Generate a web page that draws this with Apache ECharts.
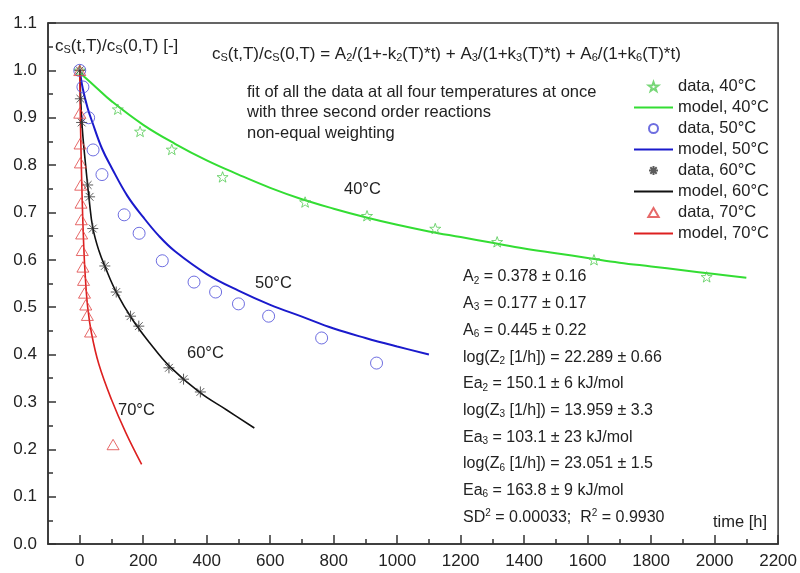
<!DOCTYPE html>
<html style="height: 100%">
<head>
    <meta charset="UTF-8">
    <title>cS(t,T)/cS(0,T) fit</title>
    <script type="text/javascript" src="https://cdn.jsdelivr.net/npm/echarts/dist/echarts.min.js"></script>
</head>
<body style="height: 100%; margin: 0">
<div id="container" style="width: 800px; height: 573px"></div>
<script>
    // axis ticks
    var xTicks = [0, 200, 400, 600, 800, 1000, 1200, 1400, 1600, 1800, 2000, 2200];
    var xMinorTicks = [100, 300, 500, 700, 900, 1100, 1300, 1500, 1700, 1900, 2100];

    // measured data [t (h), cS(t)/cS(0)]
    var data40 = [[0, 1.0], [120, 0.918], [190, 0.871], [290, 0.833], [450, 0.775], [710, 0.722],
        [905, 0.693], [1120, 0.666], [1315, 0.638], [1620, 0.600], [1975, 0.564]];
    var data50 = [[0, 1.0], [10, 0.965], [28, 0.9], [42, 0.832], [70, 0.78], [140, 0.695], [187, 0.656],
        [260, 0.598], [360, 0.553], [428, 0.532], [500, 0.507], [595, 0.481], [762, 0.435], [935, 0.382]];
    var data60 = [[0, 1.0], [2, 0.94], [6, 0.89], [25, 0.758], [31, 0.733], [41, 0.666], [79, 0.587],
        [115, 0.532], [160, 0.481], [186, 0.46], [281, 0.372], [327, 0.348], [380, 0.321]];
    var data70 = [[0, 1.0], [0, 0.91], [1, 0.845], [2, 0.805], [3, 0.758], [4, 0.72], [5, 0.685], [6, 0.655],
        [8, 0.62], [10, 0.585], [12, 0.557], [15, 0.53], [19, 0.505], [24, 0.483], [34, 0.448], [105, 0.21]];

    // model curves
    var model40 = [[0, 0.995], [50, 0.965], [100, 0.935], [200, 0.885], [300, 0.845], [400, 0.81], [500, 0.78],
        [600, 0.752], [700, 0.728], [800, 0.708], [900, 0.69], [1000, 0.674], [1100, 0.66], [1200, 0.648],
        [1300, 0.636], [1400, 0.624], [1500, 0.614], [1600, 0.604], [1700, 0.594], [1800, 0.586],
        [1900, 0.578], [2000, 0.57], [2100, 0.562]];
    var model50 = [[0, 1.0], [10, 0.96], [25, 0.92], [40, 0.89], [70, 0.835], [100, 0.795], [150, 0.735],
        [200, 0.69], [250, 0.65], [300, 0.618], [400, 0.57], [500, 0.535], [600, 0.505], [700, 0.48],
        [800, 0.455], [900, 0.435], [1000, 0.417], [1100, 0.4]];
    var model60 = [[0, 1.0], [5, 0.91], [10, 0.86], [20, 0.79], [30, 0.725], [41, 0.668], [60, 0.62],
        [80, 0.585], [115, 0.532], [167, 0.473], [220, 0.425], [283, 0.375], [378, 0.32], [463, 0.283], [550, 0.245]];
    var model70 = [[0, 1.0], [2, 0.9], [5, 0.8], [8, 0.72], [12, 0.64], [17, 0.57], [25, 0.5], [37, 0.445],
        [60, 0.38], [100, 0.305], [145, 0.235], [195, 0.168]];

    var legendNames = ['data, 40°C', 'model, 40°C', 'data, 50°C', 'model, 50°C',
        'data, 60°C', 'model, 60°C', 'data, 70°C', 'model, 70°C'];

    var paramLines = [
        'A{sub|2} = 0.378 ± 0.16',
        'A{sub|3} = 0.177 ± 0.17',
        'A{sub|6} = 0.445 ± 0.22',
        'log(Z{sub|2} [1/h]) = 22.289 ± 0.66',
        'Ea{sub|2} = 150.1 ± 6 kJ/mol',
        'log(Z{sub|3} [1/h]) = 13.959 ± 3.3',
        'Ea{sub|3} = 103.1 ± 23 kJ/mol',
        'log(Z{sub|6} [1/h]) = 23.051 ± 1.5',
        'Ea{sub|6} = 163.8 ± 9 kJ/mol',
        'SD{sup|2} = 0.00033;  R{sup|2} = 0.9930'
    ];
    var noteLines = [
        'fit of all the data at all four temperatures at once',
        'with three second order reactions',
        'non-equal weighting'
    ];

    var FONT = '"Liberation Sans", Arial, sans-serif';
    var TXT = '#222';

    var STAR = 'path://M0,-10L2.35,-3.24L9.51,-3.09L3.8,1.24L5.88,8.09L0,4L-5.88,8.09L-3.8,1.24L-9.51,-3.09L-2.35,-3.24Z';
    var ASTER = 'path://M0,-10L0,10M-10,0L10,0M-7.07,-7.07L7.07,7.07M-7.07,7.07L7.07,-7.07';
    var TRI = 'path://M0,-10L10,7.3L-10,7.3Z';

    function txt(x, y, s, size) {
        return {
            type: 'text', x: x, y: y, z: 100,
            style: {
                text: s, fontSize: size, fontFamily: FONT, fill: TXT,
                lineHeight: 20, verticalAlign: 'middle', align: 'left',
                rich: {
                    sub: {fontSize: Math.round(size * 0.62), fontFamily: FONT, fill: TXT, lineHeight: 10, padding: [8, 0, 0, 0]},
                    sup: {fontSize: Math.round(size * 0.62), fontFamily: FONT, fill: TXT, lineHeight: 10, padding: [0, 0, 8, 0]}
                }
            }
        };
    }

    function scatter(name, data, symbol, size, color) {
        return {
            name: name, type: 'scatter', data: data, symbol: symbol, symbolSize: size,
            symbolKeepAspect: true,
            itemStyle: {color: 'rgba(0,0,0,0)', borderColor: color, borderWidth: 1},
            z: 3
        };
    }

    function model(name, data, color, width) {
        return {
            name: name, type: 'line', data: data, symbol: 'none', smooth: 0.4,
            lineStyle: {color: color, width: width}, itemStyle: {color: color},
            z: 2
        };
    }

    var legendIcons = {'data, 40°C': STAR, 'data, 50°C': 'circle', 'data, 60°C': ASTER, 'data, 70°C': TRI};
    var legendData = legendNames.map(function (n) {
        if (legendIcons[n]) return {name: n, icon: legendIcons[n]};
        return {name: n, itemStyle: {opacity: 0}};
    });

    var graphics = [];
    graphics.push(txt(55, 46, 'c{sub|S}(t,T)/c{sub|S}(0,T) [-]', 17));
    graphics.push(txt(212, 54, 'c{sub|S}(t,T)/c{sub|S}(0,T) = A{sub|2}/(1+-k{sub|2}(T)*t) + A{sub|3}/(1+k{sub|3}(T)*t) + A{sub|6}/(1+k{sub|6}(T)*t)', 17));
    noteLines.forEach(function (s, i) {
        graphics.push(txt(247, 92 + i * 20.5, s, 16.5));
    });
    paramLines.forEach(function (s, i) {
        graphics.push(txt(463, 277 + i * 26.7, s, 16));
    });
    graphics.push(txt(713, 522, 'time [h]', 16.5));
    graphics.push(txt(344, 189, '40°C', 16.5));
    graphics.push(txt(255, 283, '50°C', 16.5));
    graphics.push(txt(187, 353, '60°C', 16.5));
    graphics.push(txt(118, 410, '70°C', 16.5));

    var chart = echarts.init(document.getElementById('container'));
    var option = {
        animation: false,
        backgroundColor: '#fff',
        textStyle: {fontFamily: FONT},
        grid: {left: 48, right: 21, top: 23, bottom: 29, show: true, borderColor: '#333', borderWidth: 1.5},
        legend: {
            orient: 'vertical', left: 628, top: 73,
            itemWidth: 39, itemHeight: 9, itemGap: 4,
            symbolKeepAspect: true,
            data: legendData,
            textStyle: {fontSize: 16.5, color: TXT, fontFamily: FONT}
        },
        xAxis: [{
            type: 'value', min: -100, max: 2200,
            splitLine: {show: false},
            axisLine: {onZero: false, lineStyle: {color: '#333', width: 1.5}},
            axisTick: {inside: true, length: 9, customValues: xTicks, lineStyle: {color: '#333', width: 1.5}},
            axisLabel: {customValues: xTicks, fontSize: 17, color: TXT, margin: 9, fontFamily: FONT,
                formatter: function (v) { return String(v); }}
        }, {
            type: 'value', min: -100, max: 2200, position: 'bottom',
            splitLine: {show: false},
            axisLine: {show: false, onZero: false},
            axisTick: {inside: true, length: 5, customValues: xMinorTicks, lineStyle: {color: '#333', width: 1.5}},
            axisLabel: {show: false}
        }],
        yAxis: {
            type: 'value', min: 0, max: 1.1, interval: 0.1,
            splitLine: {show: false},
            axisLine: {show: true, onZero: false, lineStyle: {color: '#333', width: 1.5}},
            axisTick: {inside: true, length: 8, lineStyle: {color: '#333', width: 1.5}},
            minorTick: {show: true, splitNumber: 2, length: 5, lineStyle: {color: '#333', width: 1.5}},
            axisLabel: {fontSize: 17, color: TXT, margin: 11, fontFamily: FONT,
                formatter: function (v) { return v.toFixed(1); }}
        },
        graphic: graphics,
        series: [
            scatter('data, 40°C', data40, STAR, 11, '#55cc55'),
            model('model, 40°C', model40, '#33dd33', 2),
            scatter('data, 50°C', data50, 'circle', 12, '#4a4ad8'),
            model('model, 50°C', model50, '#1a1acc', 2),
            scatter('data, 60°C', data60, ASTER, 11, '#333'),
            model('model, 60°C', model60, '#111', 1.6),
            scatter('data, 70°C', data70, TRI, 12, '#e04444'),
            model('model, 70°C', model70, '#dd2020', 1.6)
        ]
    };
    chart.setOption(option);
</script>
</body>
</html>
